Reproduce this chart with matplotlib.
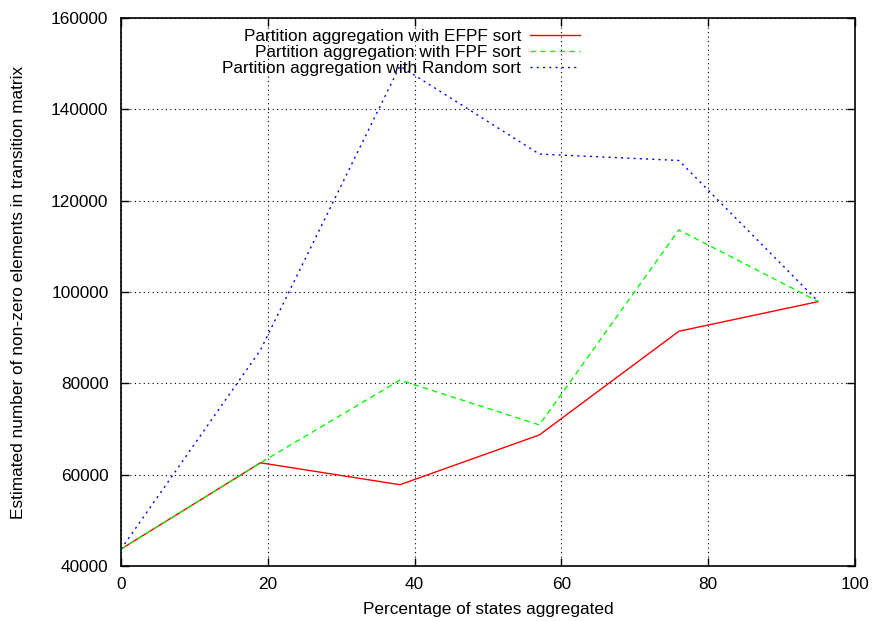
import matplotlib
matplotlib.use("Agg")
import matplotlib.pyplot as plt

matplotlib.rcParams['font.family'] = ['Liberation Sans', 'DejaVu Sans']

pct = [0, 19, 38, 57, 76, 95]
efpf = [43700, 62600, 57800, 68700, 91400, 97900]
fpf = [43700, 62600, 80700, 70900, 113600, 97900]
rand = [43700, 87300, 149500, 130200, 128800, 97900]

FS = 12.4

fig = plt.figure(figsize=(8.77, 6.21), dpi=100)
ax = fig.add_axes([121/877, 55/621, 734/877, 548/621])

ax.plot(pct, efpf, color="#ff0000", linewidth=1.0, label="Partition aggregation with EFPF sort")
ax.plot(pct, fpf, color="#00ff00", linewidth=1.0, linestyle=(0, (4, 3)),
        label="Partition aggregation with FPF sort")
ax.plot(pct, rand, color="#0000ff", linewidth=1.0, linestyle=(0, (1.5, 3)),
        label="Partition aggregation with Random sort")

ax.set_xlim(0, 100)
ax.set_ylim(40000, 160000)
ax.set_xticks(range(0, 101, 20))
ax.set_yticks(range(40000, 160001, 20000))
ax.grid(True, color="black", linestyle=(0, (1, 3)), linewidth=0.8)
ax.tick_params(direction="in", top=True, right=True, length=6, labelsize=FS, width=1)
ax.tick_params(axis="y", pad=9)
ax.tick_params(axis="x", pad=8)
for s in ax.spines.values():
    s.set_linewidth(1.2)

ax.set_xlabel("Percentage of states aggregated", fontsize=FS, labelpad=7)
ax.set_ylabel("Estimated number of non-zero elements in transition matrix", fontsize=FS, labelpad=18)

ax.legend(loc="upper right", bbox_to_anchor=(0.625, 0.98), frameon=False, markerfirst=False,
          fontsize=FS, handlelength=2.9, labelspacing=0.05, handletextpad=0.5, borderpad=0,
          borderaxespad=0)

fig.savefig("out.png", facecolor="white")
